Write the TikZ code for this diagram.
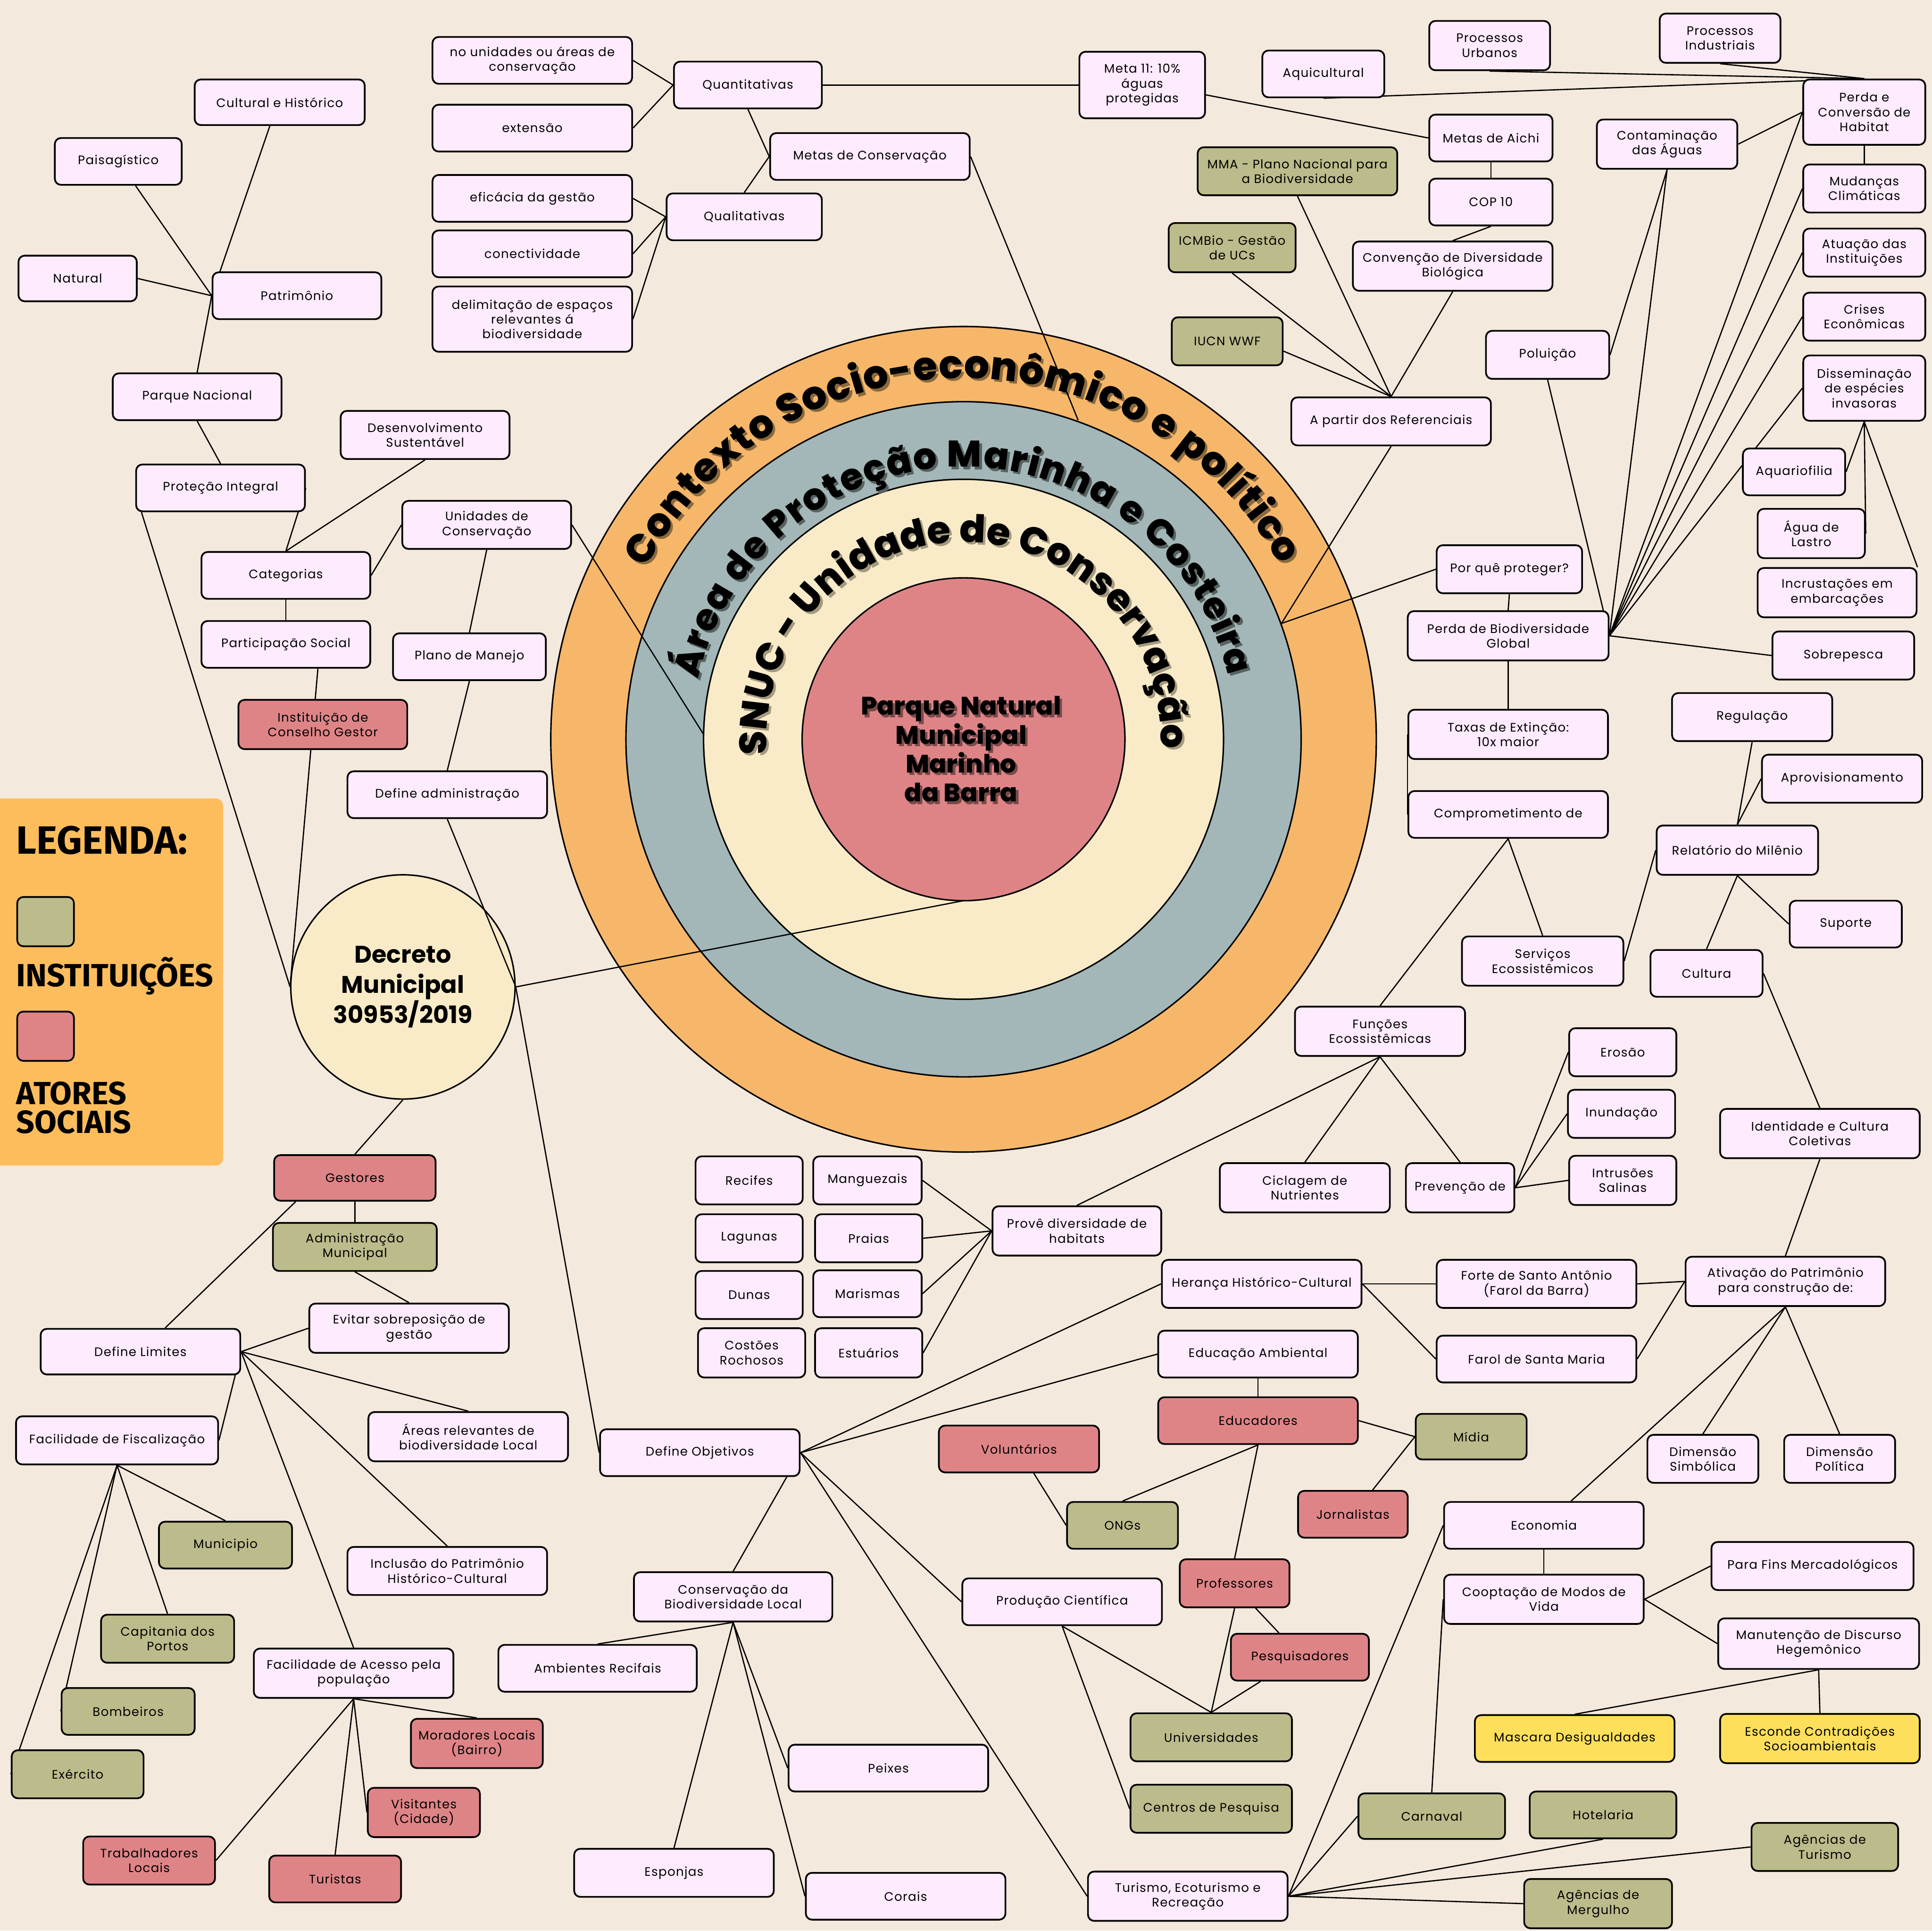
\documentclass[tikz,border=0pt]{standalone}
\usepackage{fontspec}
\setmainfont{Poppins}
\newfontfamily\boxfont{Poppins}[LetterSpace=5]
\newfontfamily\heavyfont{Poppins ExtraBold}
\newfontfamily\legfont{Fira Sans}
\usetikzlibrary{decorations.text}

\definecolor{bgcol}{HTML}{F3E9DC}
\definecolor{boxcol}{HTML}{FEEBFE}
\definecolor{redcol}{HTML}{DE8487}
\definecolor{olivecol}{HTML}{BCBB8B}
\definecolor{yellowcol}{HTML}{FDDF5C}
\definecolor{ringO}{HTML}{F6B76A}
\definecolor{ringG}{HTML}{A3B6B8}
\definecolor{ringC}{HTML}{FAEBC8}
\definecolor{legcol}{HTML}{FEBD5C}
\definecolor{shO}{HTML}{8A6A3E}
\definecolor{shG}{HTML}{56625F}
\definecolor{shC}{HTML}{A39A80}
\definecolor{shR}{HTML}{7A4A4A}

\pgfdeclarelayer{back}
\pgfdeclarelayer{edges}
\pgfsetlayers{back,edges,main}

% text on a ring: colour, size, radius, start, end, text
\newcommand{\ringtext}[6]{%
  \path[decorate, decoration={text along path, text align={fit to path},
      text={|\heavyfont\fontsize{#2}{#2}\selectfont\color{#1}|#6}}]
    (782,600) ++(#4:#3) arc[start angle=#4, end angle=#5, radius=#3];}

\begin{document}
\begin{tikzpicture}[x=1pt, y=-1pt,
    box/.style={draw, line width=1.4, rounded corners=5, fill=boxcol, align=center, inner sep=2,
      font=\boxfont\fontsize{10}{12}\selectfont},
    inst/.style={box, fill=olivecol},
    ator/.style={box, fill=redcol},
    hl/.style={box, fill=yellowcol},
    sz/.style 2 args={minimum width=#1, minimum height=#2},
    link/.style={line width=1}
  ]
  \useasboundingbox (0,0) rectangle (1568,1567);

  \begin{pgfonlayer}{back}
    \fill[bgcol] (0,0) rectangle (1568,1567);
    \fill[legcol, rounded corners=6] (-10,648) rectangle (181,946);
    \coordinate (ctr) at (782,600);
    \draw[line width=1.2, fill=ringO] (ctr) circle[radius=335];
    \draw[line width=1.2, fill=ringG] (ctr) circle[radius=274];
    \draw[line width=1.2, fill=ringC] (ctr) circle[radius=211];
    \draw[line width=1.2, fill=redcol] (ctr) circle[radius=131];
    % ring titles with shadow
    \begin{scope}[shift={(2,2)}]
      \ringtext{shO}{32}{293}{-151.7}{-28.8}{Contexto Socio-econômico e político}
      \ringtext{shG}{30}{221}{-167.2}{-13.5}{Área de Proteção Marinha e Costeira}
      \ringtext{shC}{31}{160}{-184.4}{2.7}{SNUC - Unidade de Conservação}
    \end{scope}
    \ringtext{black}{32}{293}{-151.7}{-28.8}{Contexto Socio-econômico e político}
    \ringtext{black}{30}{221}{-167.2}{-13.5}{Área de Proteção Marinha e Costeira}
    \ringtext{black}{31}{160}{-184.4}{2.7}{SNUC - Unidade de Conservação}
    \node[align=center, text=shR, font=\heavyfont\fontsize{20.5}{23.5}\selectfont] (parqueS) at (782,610) {Parque Natural\\Municipal\\Marinho\\da Barra};
    \node[align=center, font=\heavyfont\fontsize{20.5}{23.5}\selectfont] (parque) at (780,608) {Parque Natural\\Municipal\\Marinho\\da Barra};
    \node[circle, draw, line width=1.2, fill=ringC, minimum size=182, align=center,
      font=\bfseries\fontsize{19.5}{24.5}\selectfont] (decreto) at (327,801) {Decreto\\Municipal\\30953/2019};
  \end{pgfonlayer}

  % legenda
  \node[anchor=west, inner sep=0, font=\legfont\bfseries\fontsize{32}{32}\selectfont] (legtitle) at (13,682) {LEGENDA:};
  \node[draw, line width=1.4, fill=olivecol, rounded corners=5, minimum width=46, minimum height=40] (leginst) at (37,748) {};
  \node[anchor=west, inner sep=0, font=\legfont\bfseries\fontsize{26}{26}\selectfont] (leginsttxt) at (13,792) {INSTITUIÇÕES};
  \node[draw, line width=1.4, fill=redcol, rounded corners=5, minimum width=46, minimum height=40] (legator) at (37,841) {};
  \node[anchor=west, inner sep=0, align=left, font=\legfont\bfseries\fontsize{26}{23.5}\selectfont] (legatortxt) at (13,899) {ATORES\\SOCIAIS};

  % metas
  \node[box, sz={162}{38}] (nounid) at (432,49) {no unidades ou áreas de\\conservação};
  \node[box, sz={162}{38}] (extensao) at (432,104) {extensão};
  \node[box, sz={120}{38}] (quanti) at (607,69) {Quantitativas};
  \node[box, sz={162}{38}] (metascons) at (706,127) {Metas de Conservação};
  \node[box, sz={162}{38}] (eficacia) at (432,161) {eficácia da gestão};
  \node[box, sz={126}{38}] (quali) at (604,176) {Qualitativas};
  \node[box, sz={162}{38}] (conect) at (432,206) {conectividade};
  \node[box, sz={162}{53}] (delim) at (432,259) {delimitação de espaços\\relevantes á\\biodiversidade};

  % patrimonio, categorias
  \node[box, sz={138}{37}] (cultural) at (227,83) {Cultural e Histórico};
  \node[box, sz={103}{38}] (paisag) at (96,131) {Paisagístico};
  \node[box, sz={96}{37}] (natural) at (63,226) {Natural};
  \node[box, sz={137}{38}] (patrim) at (241,240) {Patrimônio};
  \node[box, sz={137}{38}] (parquenac) at (160,322) {Parque Nacional};
  \node[box, sz={137}{39}] (desenv) at (345,353) {Desenvolvimento\\Sustentável};
  \node[box, sz={137}{38}] (protecao) at (179,396) {Proteção Integral};
  \node[box, sz={137}{39}] (unidades) at (395,426) {Unidades de\\Conservação};
  \node[box, sz={137}{38}] (categ) at (232,467) {Categorias};
  \node[box, sz={137}{38}] (partic) at (232,523) {Participação Social};
  \node[box, sz={124}{38}] (plano) at (381,533) {Plano de Manejo};
  \node[ator, sz={137}{40}] (instit) at (262,588) {Instituição de\\Conselho Gestor};
  \node[box, sz={162}{38}] (defadm) at (363,645) {Define administração};

  % gestores, limites
  \node[ator, sz={131}{37}] (gestores) at (288,956) {Gestores};
  \node[inst, sz={133}{39}] (admmun) at (288,1012) {Administração\\Municipal};
  \node[box, sz={162}{40}] (evitar) at (332,1078) {Evitar sobreposição de\\gestão};
  \node[box, sz={162}{37}] (deflim) at (114,1097) {Define Limites};
  \node[box, sz={164}{39}] (fiscal) at (95,1169) {Facilidade de Fiscalização};
  \node[box, sz={162}{40}] (areasrel) at (380,1166) {Áreas relevantes de\\biodiversidade Local};
  \node[inst, sz={108}{38}] (munic) at (183,1254) {Municipio};
  \node[box, sz={162}{39}] (inclusao) at (363,1275) {Inclusão do Patrimônio\\Histórico-Cultural};
  \node[inst, sz={108}{39}] (capitania) at (136,1330) {Capitania dos\\Portos};
  \node[box, sz={162}{40}] (facacesso) at (287,1358) {Facilidade de Acesso pela\\população};
  \node[inst, sz={108}{38}] (bombeiros) at (104,1389) {Bombeiros};
  \node[ator, sz={107}{40}] (moradores) at (387,1415) {Moradores Locais\\(Bairro)};
  \node[inst, sz={107}{39}] (exercito) at (63,1440) {Exército};
  \node[ator, sz={91}{40}] (visitantes) at (344,1471) {Visitantes\\(Cidade)};
  \node[ator, sz={107}{39}] (trabalh) at (121,1510) {Trabalhadores\\Locais};
  \node[ator, sz={107}{38}] (turistas) at (272,1525) {Turistas};

  % habitats, objetivos
  \node[box, sz={87}{39}] (recifes) at (608,958) {Recifes};
  \node[box, sz={88}{39}] (mangue) at (704,958) {Manguezais};
  \node[box, sz={87}{39}] (lagunas) at (608,1005) {Lagunas};
  \node[box, sz={87}{39}] (praias) at (705,1005) {Praias};
  \node[box, sz={87}{39}] (dunas) at (608,1051) {Dunas};
  \node[box, sz={88}{38}] (marismas) at (704,1050) {Marismas};
  \node[box, sz={87}{40}] (costoes) at (610,1098) {Costões\\Rochosos};
  \node[box, sz={87}{40}] (estuarios) at (705,1098) {Estuários};
  \node[box, sz={137}{40}] (prove) at (874,999) {Provê diversidade de\\habitats};
  \node[box, sz={162}{38}] (defobj) at (568,1179) {Define Objetivos};
  \node[box, sz={161}{40}] (conserv) at (595,1296) {Conservação da\\Biodiversidade Local};
  \node[box, sz={161}{38}] (ambrec) at (485,1354) {Ambientes Recifais};
  \node[box, sz={162}{38}] (peixes) at (721,1435) {Peixes};
  \node[box, sz={162}{39}] (esponjas) at (547,1520) {Esponjas};
  \node[box, sz={162}{38}] (corais) at (735,1539) {Corais};
  \node[ator, sz={130}{38}] (volunt) at (827,1176) {Voluntários};
  \node[inst, sz={90}{38}] (ongs) at (911,1238) {ONGs};
  \node[box, sz={162}{38}] (prodci) at (862,1300) {Produção Científica};
  \node[box, sz={162}{39}] (heranca) at (1024,1042) {Herança Histórico-Cultural};
  \node[box, sz={162}{38}] (edamb) at (1021,1099) {Educação Ambiental};
  \node[ator, sz={162}{38}] (educad) at (1021,1153) {Educadores};
  \node[inst, sz={90}{37}] (midia) at (1194,1166) {Mídia};
  \node[ator, sz={89}{38}] (jornal) at (1098,1229) {Jornalistas};
  \node[ator, sz={89}{39}] (profess) at (1002,1285) {Professores};
  \node[ator, sz={112}{38}] (pesquis) at (1055,1345) {Pesquisadores};
  \node[inst, sz={131}{39}] (univ) at (983,1410) {Universidades};
  \node[inst, sz={131}{39}] (centros) at (983,1468) {Centros de Pesquisa};
  \node[box, sz={162}{40}] (turismo) at (964,1539) {Turismo, Ecoturismo e\\Recreação};

  % patrimonio cultural, economia
  \node[box, sz={162}{39}] (forte) at (1247,1042) {Forte de Santo Antônio\\(Farol da Barra)};
  \node[box, sz={162}{38}] (farol) at (1247,1103) {Farol de Santa Maria};
  \node[box, sz={162}{40}] (ativ) at (1449,1040) {Ativação do Patrimônio\\para construção de:};
  \node[box, sz={90}{39}] (dsimb) at (1382,1184) {Dimensão\\Simbólica};
  \node[box, sz={90}{39}] (dpol) at (1493,1184) {Dimensão\\Política};
  \node[box, sz={162}{40}] (ident) at (1477,920) {Identidade e Cultura\\Coletivas};
  \node[box, sz={162}{38}] (econ) at (1253,1238) {Economia};
  \node[box, sz={162}{40}] (coopt) at (1253,1298) {Cooptação de Modos de\\Vida};
  \node[box, sz={164}{39}] (parafins) at (1471,1271) {Para Fins Mercadológicos};
  \node[box, sz={163}{41}] (manut) at (1476,1334) {Manutenção de Discurso\\Hegemônico};
  \node[hl, sz={162}{38}] (mascara) at (1278,1411) {Mascara Desigualdades};
  \node[hl, sz={162}{40}] (esconde) at (1477,1411) {Esconde Contradições\\Socioambientais};
  \node[inst, sz={119}{37}] (carnaval) at (1162,1474) {Carnaval};
  \node[inst, sz={119}{38}] (hotel) at (1301,1473) {Hotelaria};
  \node[inst, sz={119}{39}] (agtur) at (1481,1499) {Agências de\\Turismo};
  \node[inst, sz={120}{40}] (agmerg) at (1297,1545) {Agências de\\Mergulho};

  % funcoes, servicos
  \node[box, sz={138}{40}] (ciclagem) at (1059,964) {Ciclagem de\\Nutrientes};
  \node[box, sz={88}{40}] (prevencao) at (1185,964) {Prevenção de};
  \node[box, sz={87}{39}] (erosao) at (1317,854) {Erosão};
  \node[box, sz={87}{39}] (inundacao) at (1316,904) {Inundação};
  \node[box, sz={87}{40}] (intrusoes) at (1317,958) {Intrusões\\Salinas};
  \node[box, sz={138}{40}] (funcoes) at (1120,837) {Funções\\Ecossistêmicas};
  \node[box, sz={131}{40}] (servicos) at (1252,780) {Serviços\\Ecossistêmicos};
  \node[box, sz={162}{38}] (comprom) at (1224,661) {Comprometimento de};
  \node[box, sz={162}{40}] (taxas) at (1224,596) {Taxas de Extinção:\\10x maior};
  \node[box, sz={163}{40}] (perdabio) at (1224,516) {Perda de Biodiversidade\\Global};
  \node[box, sz={118}{39}] (porque) at (1225,462) {Por quê proteger?};
  \node[box, sz={115}{39}] (sobrepesca) at (1496,532) {Sobrepesca};
  \node[box, sz={130}{39}] (regulacao) at (1422,582) {Regulação};
  \node[box, sz={130}{39}] (aprov) at (1495,632) {Aprovisionamento};
  \node[box, sz={131}{40}] (relatorio) at (1410,690) {Relatório do Milênio};
  \node[box, sz={91}{38}] (suporte) at (1498,750) {Suporte};
  \node[box, sz={91}{38}] (cultura) at (1385,790) {Cultura};

  % referenciais, ameacas
  \node[box, sz={100}{39}] (poluicao) at (1256,288) {Poluição};
  \node[box, sz={162}{39}] (apartir) at (1129,342) {A partir dos Referenciais};
  \node[inst, sz={90}{39}] (iucn) at (996,277) {IUCN WWF};
  \node[inst, sz={103}{40}] (icmbio) at (1000,201) {ICMBio - Gestão\\de UCs};
  \node[inst, sz={162}{39}] (mma) at (1053,139) {MMA - Plano Nacional para\\a Biodiversidade};
  \node[box, sz={162}{40}] (convencao) at (1179,216) {Convenção de Diversidade\\Biológica};
  \node[box, sz={100}{38}] (cop) at (1210,164) {COP 10};
  \node[box, sz={100}{38}] (aichi) at (1210,112) {Metas de Aichi};
  \node[box, sz={102}{54}] (meta11) at (927,69) {Meta 11: 10\%\\águas\\protegidas};
  \node[box, sz={99}{38}] (aquic) at (1074,60) {Aquicultural};
  \node[box, sz={98}{40}] (procurb) at (1209,37) {Processos\\Urbanos};
  \node[box, sz={98}{40}] (procind) at (1396,31) {Processos\\Industriais};
  \node[box, sz={114}{40}] (contam) at (1353,117) {Contaminação\\das Águas};
  \node[box, sz={99}{53}] (perdahab) at (1513,91) {Perda e\\Conversão de\\Habitat};
  \node[box, sz={99}{39}] (mudancas) at (1513,153) {Mudanças\\Climáticas};
  \node[box, sz={99}{39}] (atuacao) at (1513,205) {Atuação das\\Instituições};
  \node[box, sz={99}{39}] (crises) at (1513,257) {Crises\\Econômicas};
  \node[box, sz={99}{53}] (dissem) at (1513,315) {Disseminação\\de espécies\\invasoras};
  \node[box, sz={83}{38}] (aquario) at (1456,383) {Aquariofilia};
  \node[box, sz={87}{40}] (agualastro) at (1470,433) {Água de\\Lastro};
  \node[box, sz={129}{40}] (incrust) at (1491,481) {Incrustações em\\embarcações};

  % ends on the rings
  \coordinate (gA) at (875,341);
  \coordinate (gB) at (1040,506);
  \coordinate (cC) at (571,596);
  \coordinate (rS) at (782,731);

  \begin{pgfonlayer}{edges}
    \draw[link] (nounid.east) -- (quanti.west);
    \draw[link] (extensao.east) -- (quanti.west);
    \draw[link] (quanti.south) -- (metascons.west);
    \draw[link] (quali.north) -- (metascons.west);
    \draw[link] (eficacia.east) -- (quali.west);
    \draw[link] (conect.east) -- (quali.west);
    \draw[link] (delim.east) -- (quali.west);
    \draw[link] (quanti.east) -- (meta11.west);
    \draw[link] (metascons.east) -- (gA);
    \draw[link] ([yshift=-8pt]meta11.east) -- (aichi.west);
    \draw[link] (aquic.south) -- (perdahab.north);
    \draw[link] (procurb.south) -- (perdahab.north);
    \draw[link] (procind.south) -- (perdahab.north);
    \draw[link] (contam.east) -- (perdahab.west);
    \draw[link] (perdahab.south) -- (mudancas.north);
    \draw[link] (contam.south) -- (poluicao.east);
    \draw[link] (contam.south) -- (perdabio.east);
    \draw[link] (poluicao.south) -- (perdabio.east);
    \draw[link] (perdabio.east) -- (perdahab.west);
    \draw[link] (perdabio.east) -- (mudancas.west);
    \draw[link] (perdabio.east) -- (atuacao.west);
    \draw[link] (perdabio.east) -- (crises.west);
    \draw[link] (perdabio.east) -- (dissem.west);
    \draw[link] (perdabio.east) -- (sobrepesca.west);
    \draw[link] (dissem.south) -- (aquario.east);
    \draw[link] (dissem.south) -- (agualastro.east);
    \draw[link] (dissem.south) -- (incrust.north east);
    \draw[link] (aichi.south) -- (cop.north);
    \draw[link] (cop.south) -- (convencao.north);
    \draw[link] (convencao.south) -- (apartir.north);
    \draw[link] (mma.south) -- (apartir.north);
    \draw[link] (icmbio.south) -- (apartir.north);
    \draw[link] ([yshift=-8pt]iucn.east) -- (apartir.north);
    \draw[link] (apartir.south) -- (gB);
    \draw[link] (porque.west) -- (gB);
    \draw[link] (porque.south) -- (perdabio.north);
    \draw[link] (perdabio.south) -- (taxas.north);
    \draw[link] (taxas.west) -- (comprom.west);
    \draw[link] (comprom.south) -- (servicos.north);
    \draw[link] (comprom.south) -- (funcoes.north);
    \draw[link] (servicos.east) -- (relatorio.west);
    \draw[link] (relatorio.north) -- (regulacao.south);
    \draw[link] (relatorio.north) -- (aprov.west);
    \draw[link] (relatorio.south) -- (suporte.west);
    \draw[link] (relatorio.south) -- (cultura.north);
    \draw[link] (cultura.east) -- (ident.north);
    \draw[link] (ident.south) -- (ativ.north);
    \draw[link] (funcoes.south) -- (ciclagem.north);
    \draw[link] (funcoes.south) -- (prevencao.north);
    \draw[link] (funcoes.south) -- (prove.north);
    \draw[link] (prevencao.east) -- (erosao.west);
    \draw[link] (prevencao.east) -- (inundacao.west);
    \draw[link] (prevencao.east) -- (intrusoes.west);
    \draw[link] (prove.west) -- (mangue.east);
    \draw[link] (prove.west) -- (praias.east);
    \draw[link] (prove.west) -- (marismas.east);
    \draw[link] (prove.west) -- (estuarios.east);

    \draw[link] ([xshift=-8pt]cultural.south) -- (patrim.west);
    \draw[link] ([xshift=14pt]paisag.south) -- (patrim.west);
    \draw[link] (natural.east) -- (patrim.west);
    \draw[link] (patrim.west) -- (parquenac.north);
    \draw[link] (parquenac.south) -- (protecao.north);
    \draw[link] (protecao.east) -- (categ.north);
    \draw[link] (desenv.south) -- (categ.north);
    \draw[link] (unidades.west) -- (categ.east);
    \draw[link] (categ.south) -- (partic.north);
    \draw[link] (unidades.south) -- (plano.north);
    \draw[link] (unidades.east) -- (cC);
    \draw[link] (plano.south) -- (defadm.north);
    \draw[link] ([xshift=5pt]protecao.south west) -- (decreto.west);
    \draw[link] (decreto.west) -- ([xshift=26pt]partic.south);
    \draw[link] (defadm.south) -- (decreto.east);
    \draw[link] (decreto.east) -- (defobj.west);
    \draw[link] (decreto.east) -- (rS);
    \draw[link] (decreto.south) -- (gestores.north);
    \draw[link] (gestores.south) -- (admmun.north);
    \draw[link] ([xshift=-48pt]gestores.south) -- ([xshift=20pt]deflim.north);
    \draw[link] (admmun.south) -- (evitar.north);
    \draw[link] (deflim.east) -- (evitar.west);
    \draw[link] (deflim.east) -- (areasrel.north);
    \draw[link] (deflim.east) -- (inclusao.north);
    \draw[link] (deflim.east) -- (facacesso.north);
    \draw[link] (deflim.east) -- (fiscal.east);
    \draw[link] (fiscal.south) -- (munic.north);
    \draw[link] (fiscal.south) -- (capitania.north);
    \draw[link] (fiscal.south) -- (bombeiros.west);
    \draw[link] (fiscal.south) -- (exercito.west);
    \draw[link] (facacesso.south) -- (moradores.north);
    \draw[link] (facacesso.south) -- (visitantes.west);
    \draw[link] (facacesso.south) -- (turistas.north);
    \draw[link] (facacesso.south) -- (trabalh.east);

    \draw[link] (defobj.east) -- (heranca.west);
    \draw[link] (defobj.east) -- (edamb.west);
    \draw[link] (defobj.east) -- (prodci.west);
    \draw[link] (defobj.east) -- (turismo.west);
    \draw[link] (defobj.east) -- (conserv.north);
    \draw[link] (conserv.south) -- (ambrec.north);
    \draw[link] (conserv.south) -- (esponjas.north);
    \draw[link] (conserv.south) -- (corais.west);
    \draw[link] (conserv.south) -- (peixes.west);
    \draw[link] (edamb.south) -- (educad.north);
    \draw[link] (educad.south) -- (ongs.north);
    \draw[link] ([xshift=12pt]volunt.south) -- (ongs.west);
    \draw[link] (educad.south) -- (profess.north);
    \draw[link] (educad.east) -- (midia.west);
    \draw[link] (midia.west) -- ([xshift=16pt]jornal.north);
    \draw[link] (profess.south) -- (univ.north);
    \draw[link] ([xshift=17pt]profess.south) -- ([xshift=-17pt]pesquis.north);
    \draw[link] ([xshift=-32pt]pesquis.south) -- (univ.north);
    \draw[link] (prodci.south) -- (univ.north);
    \draw[link] (prodci.south) -- (centros.west);
    \draw[link] (turismo.east) -- (econ.west);
    \draw[link] (turismo.east) -- (carnaval.west);
    \draw[link] (turismo.east) -- (hotel.south);
    \draw[link] (turismo.east) -- (agtur.west);
    \draw[link] (turismo.east) -- (agmerg.west);
    \draw[link] (heranca.east) -- (forte.west);
    \draw[link] (heranca.east) -- (farol.west);
    \draw[link] (forte.east) -- (ativ.west);
    \draw[link] (farol.east) -- (ativ.west);
    \draw[link] (ativ.south) -- ([xshift=22pt]econ.north);
    \draw[link] (ativ.south) -- (dsimb.north);
    \draw[link] (ativ.south) -- (dpol.north);
    \draw[link] (econ.south) -- (coopt.north);
    \draw[link] (coopt.east) -- (parafins.west);
    \draw[link] (coopt.east) -- (manut.west);
    \draw[link] (coopt.west) -- (carnaval.north);
    \draw[link] (manut.south) -- (mascara.north);
    \draw[link] (manut.south) -- (esconde.north);
  \end{pgfonlayer}
\end{tikzpicture}
\end{document}
